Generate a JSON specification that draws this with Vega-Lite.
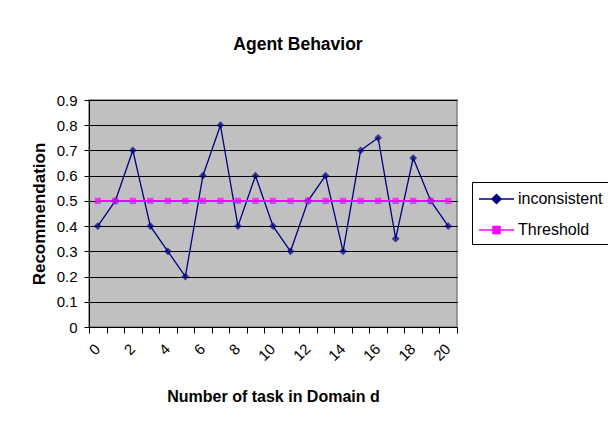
{
  "$schema": "https://vega.github.io/schema/vega-lite/v6.json",
  "width": 368,
  "height": 227,
  "autosize": "none",
  "padding": {"left": 89, "top": 100, "right": 151, "bottom": 99},
  "background": "white",
  "title": {
    "text": "Agent Behavior",
    "font": "Liberation Sans",
    "fontSize": 17.5,
    "fontWeight": "bold",
    "color": "black",
    "anchor": "middle",
    "dx": 25,
    "offset": 40
  },
  "config": {
    "view": {"fill": "#C0C0C0", "stroke": "#808080", "strokeWidth": 1.5},
    "axis": {
      "labelFont": "Liberation Sans",
      "titleFont": "Liberation Sans",
      "labelColor": "black",
      "titleColor": "black",
      "domainColor": "black",
      "tickColor": "black",
      "gridColor": "black",
      "gridOpacity": 1,
      "domainWidth": 1,
      "tickWidth": 1
    },
    "legend": {
      "orient": "none",
      "legendX": 383,
      "legendY": 82,
      "padding": 6,
      "fillColor": "white",
      "strokeColor": "black",
      "cornerRadius": 0,
      "symbolSize": 400,
      "symbolOpacity": 1,
      "symbolStrokeWidth": 1.5,
      "rowPadding": 12,
      "labelOffset": 18,
      "labelFont": "Liberation Sans",
      "labelFontSize": 16,
      "labelColor": "black"
    }
  },
  "data": {
    "values": [
      {"task": 0, "series": "inconsistent", "value": 0.4},
      {"task": 1, "series": "inconsistent", "value": 0.5},
      {"task": 2, "series": "inconsistent", "value": 0.7},
      {"task": 3, "series": "inconsistent", "value": 0.4},
      {"task": 4, "series": "inconsistent", "value": 0.3},
      {"task": 5, "series": "inconsistent", "value": 0.2},
      {"task": 6, "series": "inconsistent", "value": 0.6},
      {"task": 7, "series": "inconsistent", "value": 0.8},
      {"task": 8, "series": "inconsistent", "value": 0.4},
      {"task": 9, "series": "inconsistent", "value": 0.6},
      {"task": 10, "series": "inconsistent", "value": 0.4},
      {"task": 11, "series": "inconsistent", "value": 0.3},
      {"task": 12, "series": "inconsistent", "value": 0.5},
      {"task": 13, "series": "inconsistent", "value": 0.6},
      {"task": 14, "series": "inconsistent", "value": 0.3},
      {"task": 15, "series": "inconsistent", "value": 0.7},
      {"task": 16, "series": "inconsistent", "value": 0.75},
      {"task": 17, "series": "inconsistent", "value": 0.35},
      {"task": 18, "series": "inconsistent", "value": 0.67},
      {"task": 19, "series": "inconsistent", "value": 0.5},
      {"task": 20, "series": "inconsistent", "value": 0.4},
      {"task": 0, "series": "Threshold", "value": 0.5},
      {"task": 1, "series": "Threshold", "value": 0.5},
      {"task": 2, "series": "Threshold", "value": 0.5},
      {"task": 3, "series": "Threshold", "value": 0.5},
      {"task": 4, "series": "Threshold", "value": 0.5},
      {"task": 5, "series": "Threshold", "value": 0.5},
      {"task": 6, "series": "Threshold", "value": 0.5},
      {"task": 7, "series": "Threshold", "value": 0.5},
      {"task": 8, "series": "Threshold", "value": 0.5},
      {"task": 9, "series": "Threshold", "value": 0.5},
      {"task": 10, "series": "Threshold", "value": 0.5},
      {"task": 11, "series": "Threshold", "value": 0.5},
      {"task": 12, "series": "Threshold", "value": 0.5},
      {"task": 13, "series": "Threshold", "value": 0.5},
      {"task": 14, "series": "Threshold", "value": 0.5},
      {"task": 15, "series": "Threshold", "value": 0.5},
      {"task": 16, "series": "Threshold", "value": 0.5},
      {"task": 17, "series": "Threshold", "value": 0.5},
      {"task": 18, "series": "Threshold", "value": 0.5},
      {"task": 19, "series": "Threshold", "value": 0.5},
      {"task": 20, "series": "Threshold", "value": 0.5}
    ]
  },
  "encoding": {
    "x": {
      "field": "task",
      "type": "quantitative",
      "scale": {"domain": [-0.5, 20.5], "nice": false, "zero": false},
      "axis": {
        "title": "Number of task in Domain d",
        "titleFontSize": 16,
        "titleFontWeight": "bold",
        "titlePadding": 25,
        "values": [-0.5, 0.5, 1.5, 2.5, 3.5, 4.5, 5.5, 6.5, 7.5, 8.5, 9.5, 10.5, 11.5, 12.5, 13.5, 14.5, 15.5, 16.5, 17.5, 18.5, 19.5, 20.5],
        "labelExpr": "(datum.value + 0.5) % 2 == 0 && datum.value < 20 ? format(datum.value + 0.5, 'd') : ''",
        "labelAngle": -45,
        "labelAlign": "right",
        "labelBaseline": "middle",
        "labelOffset": 8,
        "labelPadding": 13,
        "labelFontSize": 15,
        "labelOverlap": false,
        "labelBound": false,
        "labelFlush": false,
        "tickSize": 6,
        "grid": false
      }
    },
    "y": {
      "field": "value",
      "type": "quantitative",
      "scale": {"domain": [0, 0.9], "nice": false},
      "axis": {
        "title": "Recommendation",
        "titleFontSize": 17,
        "titleFontWeight": "bold",
        "titlePadding": 8,
        "values": [0, 0.1, 0.2, 0.3, 0.4, 0.5, 0.6, 0.7, 0.8, 0.9],
        "format": ".1~f",
        "labelFontSize": 15,
        "labelPadding": 7,
        "tickSize": 5,
        "grid": true,
        "gridWidth": 1
      }
    }
  },
  "layer": [
    {
      "mark": {"type": "line", "clip": false},
      "encoding": {
        "detail": {"field": "series", "type": "nominal"},
        "color": {
          "condition": {"test": "datum.series === 'Threshold'", "value": "#FF00FF"},
          "value": "#000080"
        },
        "strokeWidth": {
          "condition": {"test": "datum.series === 'Threshold'", "value": 2},
          "value": 1.3
        }
      }
    },
    {
      "mark": {"type": "point", "filled": true, "strokeWidth": 0, "clip": false},
      "encoding": {
        "color": {
          "condition": {"test": "datum.series === 'Threshold'", "value": "#FF00FF"},
          "value": "#000080"
        },
        "shape": {
          "condition": {"test": "datum.series === 'Threshold'", "value": "square"},
          "value": "diamond"
        },
        "size": {
          "condition": {"test": "datum.series === 'Threshold'", "value": 40},
          "value": 60
        }
      }
    },
    {
      "mark": {"type": "point", "opacity": 0, "clip": false},
      "encoding": {
        "shape": {
          "field": "series",
          "type": "nominal",
          "scale": {
            "domain": ["inconsistent", "Threshold"],
            "range": ["M-1,0H2.5M0.75,-0.45L1.2,0L0.75,0.45L0.3,0Z", "M-1,0H2.5M0.4,-0.35H1.1V0.35H0.4Z"]
          },
          "legend": {"title": null}
        },
        "fill": {
          "field": "series",
          "type": "nominal",
          "scale": {"domain": ["inconsistent", "Threshold"], "range": ["#000080", "#FF00FF"]},
          "legend": {"title": null}
        },
        "stroke": {
          "field": "series",
          "type": "nominal",
          "scale": {"domain": ["inconsistent", "Threshold"], "range": ["#000080", "#FF00FF"]},
          "legend": {"title": null}
        }
      }
    }
  ]
}
